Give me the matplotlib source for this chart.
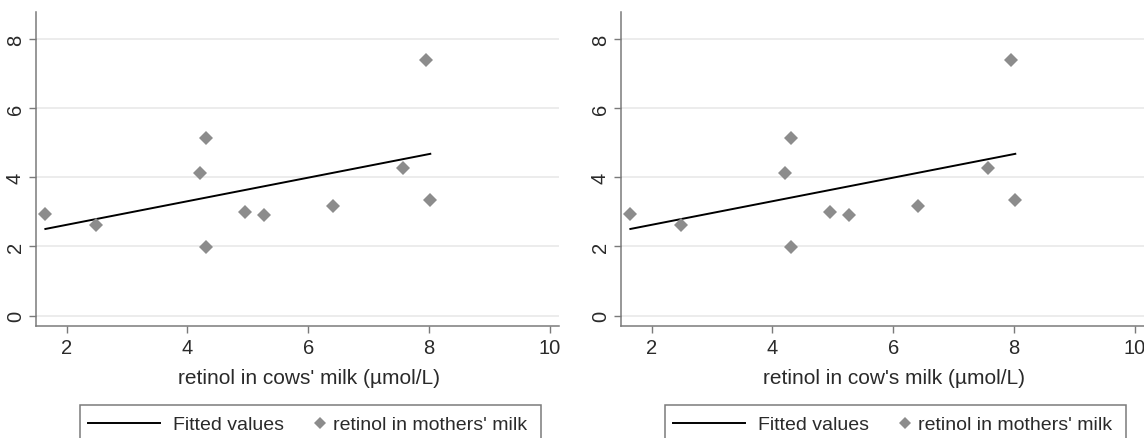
import numpy as np
import matplotlib
matplotlib.use("Agg")
import matplotlib.pyplot as plt
from matplotlib.patches import Rectangle
from matplotlib.lines import Line2D

plt.rcParams['font.family'] = ['Liberation Sans', 'DejaVu Sans']

# retinol values (same points in both panels)
cow_retinol = [1.65, 2.49, 4.21, 4.31, 4.31, 4.95, 5.26, 6.41, 7.57, 7.95, 8.02]
mother_retinol = [2.94, 2.62, 4.13, 5.14, 1.98, 2.99, 2.90, 3.18, 4.27, 7.38, 3.34]

x_labels = ["retinol in cows' milk (\u00b5mol/L)", "retinol in cow's milk (\u00b5mol/L)"]
x_ticks = [2, 4, 6, 8, 10]
y_ticks = [0, 2, 4, 6, 8]
legend_labels = ["Fitted values", "retinol in mothers' milk"]

W, H = 1144, 439
fig = plt.figure(figsize=(W / 100, H / 100), dpi=100)

def fx(px):
    return px / W

def fy(py):
    return 1 - py / H

spine_col = '#7a7a7a'
mark_col = '#8c8c8c'
text_col = '#2a2a2a'

# linear fit
slope, intercept = np.polyfit(cow_retinol, mother_retinol, 1)
x_fit = np.array([min(cow_retinol), max(cow_retinol)])
y_fit = intercept + slope * x_fit

panel_left = [36, 621]
ax_w, ax_top, ax_bot = 523, 13, 326.7

for i, left in enumerate(panel_left):
    ax = fig.add_axes([fx(left), fy(ax_bot), ax_w / W, (ax_bot - ax_top) / H])
    ax.plot(x_fit, y_fit, color='black', lw=1.4, zorder=3)
    ax.plot(cow_retinol, mother_retinol, 'D', color=mark_col, ms=6.8, mew=0, zorder=4)

    ax.set_xlim(1.495, 10.15)
    ax.set_ylim(-0.29, 8.78)
    ax.set_xticks(x_ticks)
    ax.set_yticks(y_ticks)
    ax.grid(axis='y', color='#e9e9e9', lw=1.2)
    ax.set_axisbelow(True)

    for s in ['top', 'right']:
        ax.spines[s].set_visible(False)
    for s in ['left', 'bottom']:
        ax.spines[s].set_color(spine_col)
        ax.spines[s].set_linewidth(1.1)
    ax.tick_params(axis='both', colors=spine_col, length=5, width=1.0,
                   labelcolor=text_col, labelsize=14.5)
    ax.tick_params(axis='x', pad=4)
    ax.tick_params(axis='y', pad=3)
    for t in ax.get_yticklabels():
        t.set_rotation(90)
        t.set_va('center')

    ax.set_xlabel(x_labels[i], fontsize=15, color=text_col, va='baseline')
    ax.xaxis.set_label_coords((309 - 36) / ax_w, -(384 - ax_bot) / (ax_bot - ax_top))

    # legend box, cut by the bottom edge like the original
    off = left - 36
    fig.add_artist(Rectangle((fx(80 + off), fy(455)), 461 / W, 49 / H,
                             transform=fig.transFigure, fill=False,
                             edgecolor=spine_col, lw=1.1, clip_on=False))
    fig.add_artist(Line2D([fx(88 + off), fx(160 + off)], [fy(424), fy(424)],
                          transform=fig.transFigure, color='black', lw=1.4))
    fig.text(fx(173 + off), fy(430), legend_labels[0], fontsize=14, va='baseline',
             color=text_col)
    fig.add_artist(Line2D([fx(320 + off)], [fy(424)], transform=fig.transFigure,
                          marker='D', color=mark_col, ms=6, mew=0, lw=0))
    fig.text(fx(333 + off), fy(430), legend_labels[1], fontsize=14, va='baseline',
             color=text_col)

fig.savefig('out.png', dpi=100)
